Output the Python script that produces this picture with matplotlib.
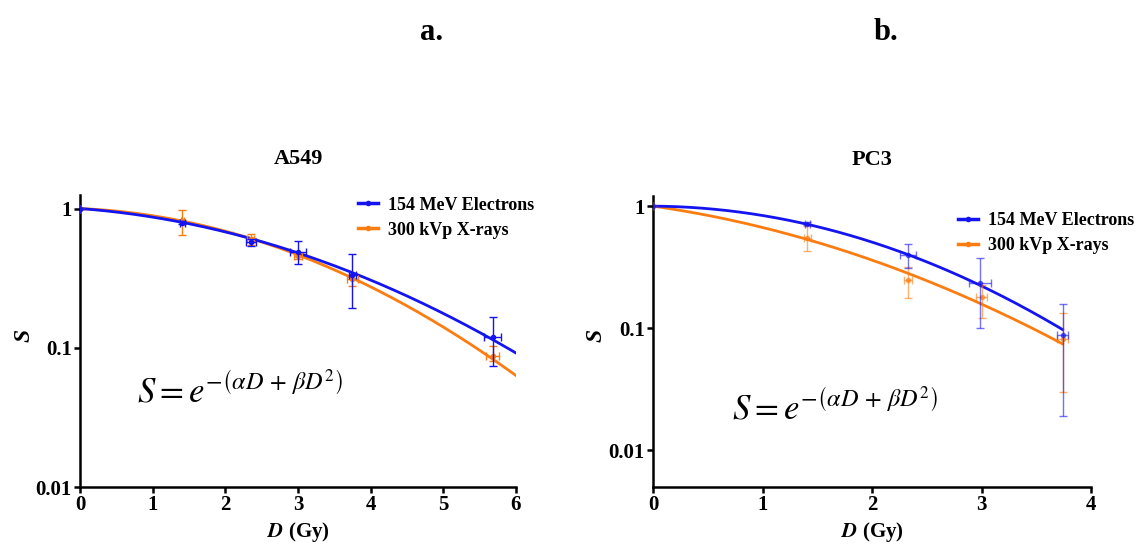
import numpy as np
import matplotlib
matplotlib.use("Agg")
import matplotlib.pyplot as plt
from matplotlib.ticker import FixedLocator, FixedFormatter, NullLocator

plt.rcParams["font.family"] = ["Liberation Serif", "DejaVu Serif"]
plt.rcParams["mathtext.fontset"] = "stix"

BLUE   = "#1414f0"
ORANGE = "#fb7d12"
LABELS = ["154 MeV Electrons", "300 kVp X-rays"]

# ── A549 ───────────────────────────────────────────
a_dose_e = [0, 1.41, 2.35, 3.00, 3.75, 5.68]
a_surv_e = [1, 0.79, 0.575, 0.488, 0.335, 0.119]
a_yhi_e  = [0, 0.02, 0.033, 0.097, 0.140, 0.047]
a_ylo_e  = [0, 0.02, 0.039, 0.090, 0.141, 0.0455]
a_xerr_e = [0, 0.03, 0.07, 0.11, 0.05, 0.12]

a_dose_x = [0, 1.41, 2.35, 3.00, 3.75, 5.68]
a_surv_x = [1, 0.815, 0.60, 0.455, 0.31, 0.087]
a_yhi_x  = [0, 0.165, 0.06, 0.025, 0.025, 0.016]
a_ylo_x  = [0, 0.165, 0.05, 0.02, 0.03, 0.006]
a_xerr_x = [0, 0.02, 0.05, 0.05, 0.07, 0.09]

a_fit_e = (0.091, 0.0512)    # alpha, beta
a_fit_x = (0.0505, 0.0683)

# ── PC3 ────────────────────────────────────────────
b_dose_e = [0, 1.41, 2.33, 2.99, 3.74]
b_surv_e = [1, 0.72, 0.40, 0.235, 0.0887]
b_yhi_e  = [0, 0.02, 0.088, 0.139, 0.070]
b_ylo_e  = [0, 0.02, 0.087, 0.135, 0.0697]
b_xerr_e = [0, 0.02, 0.07, 0.10, 0.05]

b_dose_x = [0, 1.41, 2.33, 3.00, 3.74]
b_surv_x = [1, 0.544, 0.248, 0.18, 0.081]
b_yhi_x  = [0, 0.148, 0.071, 0.048, 0.052]
b_ylo_x  = [0, 0.114, 0.071, 0.059, 0.051]
b_xerr_x = [0, 0.03, 0.035, 0.05, 0.05]

b_fit_e = (0.014, 0.1627)
b_fit_x = (0.296, 0.1066)


def lq(d, fit):
    a, b = fit
    return np.exp(-(a * d + b * d ** 2))


def panel(ax, dose_e, surv_e, ylo_e, yhi_e, xerr_e,
          dose_x, surv_x, ylo_x, yhi_x, xerr_x,
          fit_e, fit_x, dmax, xmax, ylim, bar_alpha, ylab_xy):
    d = np.linspace(0, dmax, 300)
    ax.plot(d, lq(d, fit_x), color=ORANGE, lw=2.0, zorder=3)
    ax.plot(d, lq(d, fit_e), color=BLUE, lw=2.0, zorder=4)
    ax.errorbar(dose_x, surv_x, yerr=[ylo_x, yhi_x], xerr=xerr_x,
                fmt="o", ms=3, color=ORANGE, ecolor=ORANGE, elinewidth=1,
                capsize=3, capthick=1, alpha=bar_alpha, zorder=5)
    ax.errorbar(dose_e, surv_e, yerr=[ylo_e, yhi_e], xerr=xerr_e,
                fmt="o", ms=3, color=BLUE, ecolor=BLUE, elinewidth=1,
                capsize=3, capthick=1, alpha=bar_alpha, zorder=6)
    ax.plot([], [], color=BLUE, lw=2.5, marker="o", ms=3, label=LABELS[0])
    ax.plot([], [], color=ORANGE, lw=2.5, marker="o", ms=3, label=LABELS[1])

    ax.set_yscale("log")
    ax.set_ylim(*ylim)
    ax.set_xlim(0, xmax)
    ax.yaxis.set_major_locator(FixedLocator([0.01, 0.1, 1]))
    ax.yaxis.set_major_formatter(FixedFormatter(["0.01", "0.1", "1"]))
    ax.yaxis.set_minor_locator(NullLocator())
    ax.set_xticks(range(xmax + 1))
    for s in ("top", "right"):
        ax.spines[s].set_visible(False)
    for s in ("left", "bottom"):
        ax.spines[s].set_linewidth(1.8)
    ax.tick_params(width=1.8, length=4, pad=2, labelsize=15)
    for t in ax.get_xticklabels() + ax.get_yticklabels():
        t.set_fontweight("bold")
    ax.set_xlabel(r"$\mathbfit{D}$ (Gy)", fontsize=15, fontweight="bold",
                  labelpad=3)
    ax.set_ylabel("S", fontsize=17, fontweight="bold", fontstyle="italic")
    ax.yaxis.set_label_coords(*ylab_xy)


fig = plt.figure(figsize=(11.41, 5.48), dpi=100)
ax1 = fig.add_axes([0.0701, 0.1113, 0.3821, 0.5328])
ax2 = fig.add_axes([0.5723, 0.1113, 0.3839, 0.5310])

panel(ax1, a_dose_e, a_surv_e, a_ylo_e, a_yhi_e, a_xerr_e,
      a_dose_x, a_surv_x, a_ylo_x, a_yhi_x, a_xerr_x,
      a_fit_e, a_fit_x, 6.0, 6, (0.01, 1.25), 1.0, (-0.105, 0.52))
panel(ax2, b_dose_e, b_surv_e, b_ylo_e, b_yhi_e, b_xerr_e,
      b_dose_x, b_surv_x, b_ylo_x, b_yhi_x, b_xerr_x,
      b_fit_e, b_fit_x, 3.74, 4, (0.005, 1.21), 0.6, (-0.107, 0.52))

leg_kw = dict(frameon=False, handlelength=1.1, handletextpad=0.55,
              labelspacing=0.45, prop={"weight": "bold", "size": 13})
ax1.legend(loc="upper left", bbox_to_anchor=(0.60, 1.05), **leg_kw)
ax2.legend(loc="upper left", bbox_to_anchor=(0.66, 1.00), **leg_kw)

eq = r"$S = e^{-\left(\alpha D\, +\, \beta D^{2}\right)}$"
ax1.text(0.13, 0.29, eq, transform=ax1.transAxes, fontsize=25)
ax2.text(0.18, 0.23, eq, transform=ax2.transAxes, fontsize=25)

ax1.set_title("A549", fontsize=16, fontweight="bold", pad=22)
ax2.set_title("PC3", fontsize=16, fontweight="bold", pad=22)

fig.text(432 / 1141, 1 - 32 / 548, "a.", ha="center", va="center",
         fontsize=22, fontweight="bold")
fig.text(886 / 1141, 1 - 32 / 548, "b.", ha="center", va="center",
         fontsize=22, fontweight="bold")

fig.savefig("out.png", dpi=100)
